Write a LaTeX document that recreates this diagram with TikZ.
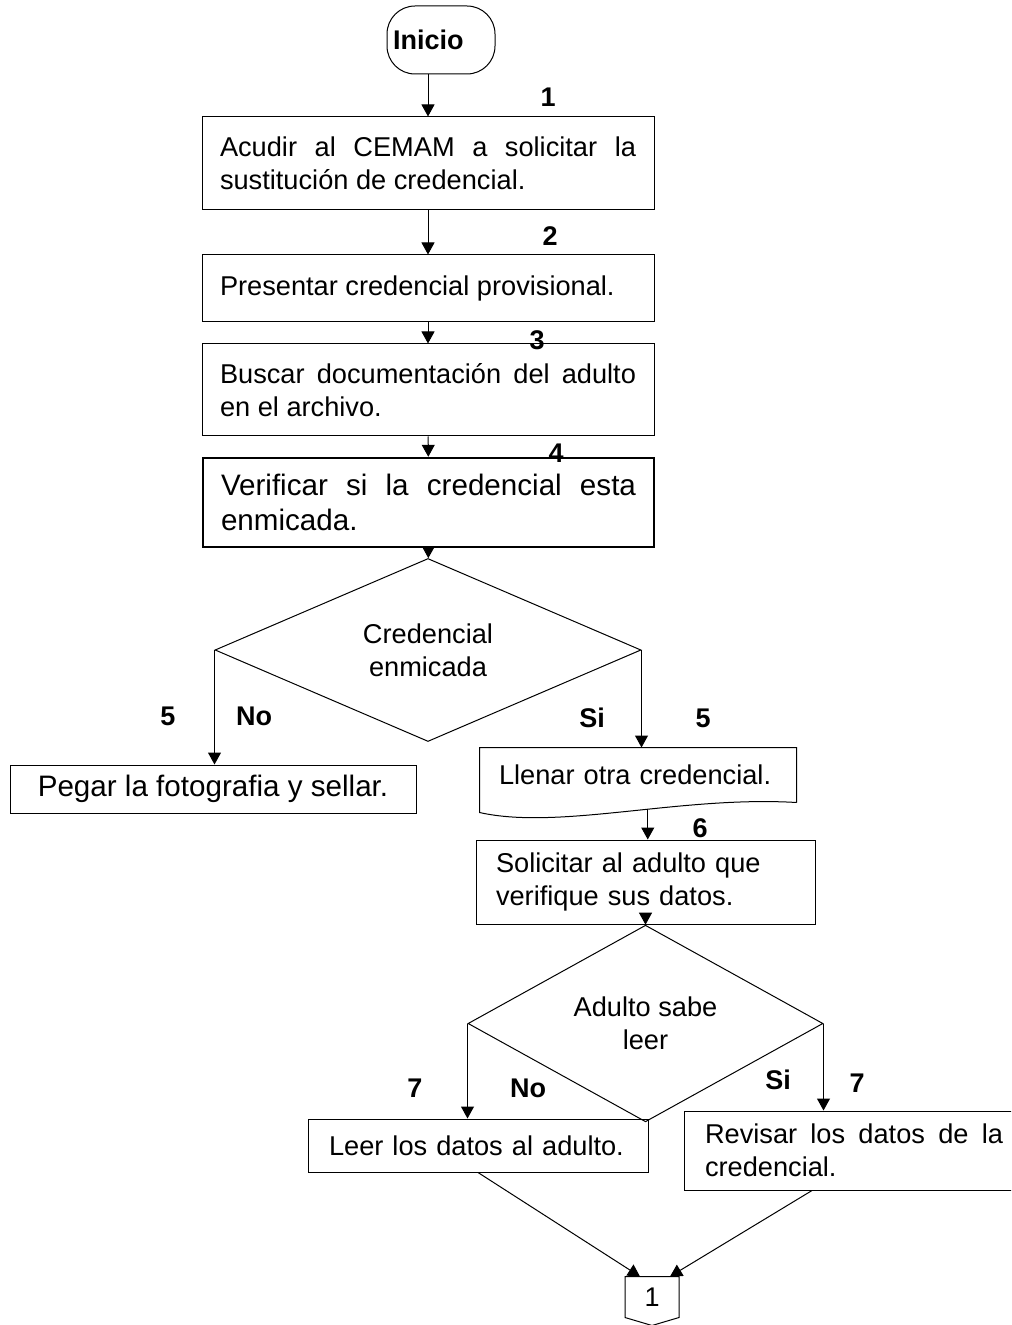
\documentclass[tikz,border=0pt]{standalone}
\usepackage{fontspec}
\setmainfont{Liberation Sans}
\usetikzlibrary{shapes.geometric,arrows.meta}
\hyphenpenalty=10000
\exhyphenpenalty=10000

\begin{document}
\begin{tikzpicture}[x=0.5pt,y=-0.5pt,line width=0.5pt,
        arr/.style={-{Triangle[length=6pt,width=6.5pt]}},
        proc/.style={draw,rectangle,align=justify,inner xsep=9pt,text width=208pt,
            font=\fontsize{13.6}{16.5}\selectfont},
        big/.style={font=\fontsize{14.8}{17.5}\selectfont},
        dec/.style={draw,diamond,align=center,inner sep=0pt,
            font=\fontsize{13.6}{16.5}\selectfont},
        num/.style={font=\bfseries\fontsize{13.5}{16}\selectfont}]
        \useasboundingbox (0,0) rectangle (1011,1325);
        \clip (0,0) rectangle (1011,1325);

        \node[draw,rounded corners=14pt,minimum height=34pt,inner xsep=3pt,text width=48pt,
            align=left,font=\bfseries\fontsize{13.5}{16}\selectfont](ini) at (441,40){Inicio};
        \node[proc,minimum height=46.5pt](b1) at (428,163.5){Acudir al CEMAM a solicitar la sustitución de credencial.};
        \node[proc,minimum height=33.5pt](b2) at (428,288.5){Presentar credencial provisional.};
        \node[proc,minimum height=46pt](b3) at (428,390){Buscar documentación del adulto en el archivo.};
        \node[proc,big,line width=1.2pt,text width=207.5pt,minimum height=44.5pt](b4) at (428.5,502.5){Verificar si la credencial esta enmicada.};
        \node[dec,minimum width=213pt,minimum height=78pt](d1) at (428,650){Credencial\\enmicada};
        \node[draw,big,minimum width=203pt,minimum height=24pt](peg) at (213,789){Pegar la fotografia y sellar.};
        \node[proc,draw=none,align=left,inner xsep=9.5pt,text width=139pt,minimum height=27pt](llen) at (638,775){Llenar otra credencial.};
        \draw (llen.south east) -- (llen.north east) -- (llen.north west) -- ([yshift=-5pt]llen.south west)
            .. controls +(80,18) and +(-116,-7) .. (llen.south east) coordinate[pos=0.57](lw);
        \node[proc,align=left,inner xsep=10pt,text width=149.5pt,minimum height=42pt](sol) at (645.5,882){Solicitar al adulto que verifique sus datos.};
        \node[dec,minimum width=177.5pt,minimum height=67.5pt](d2) at (645.5,1023.5){Adulto sabe\\leer};
        \node[proc,align=left,inner xsep=10.5pt,text width=149pt,minimum height=26.5pt](leer) at (478,1145.5){Leer los datos al adulto.};
        \node[proc,inner xsep=10.5pt,text width=149pt,minimum height=39.5pt](rev) at (854,1150.5){Revisar los datos de la credencial.};
        \node[minimum width=26.5pt,minimum height=20pt,font=\fontsize{13.5}{16}\selectfont](off) at (652,1297){1};
        \draw (off.south west) -- (off.north west) -- (off.north east) -- (off.south east)
            -- ([yshift=-4pt]off.south) -- cycle;

        \draw[arr] (b1.north |- ini.south) -- (b1.north);
        \draw[arr] (b1) -- (b2);
        \draw[arr] (b2) -- (b3);
        \draw[arr] (b3) -- (b4);
        \draw[arr] (b4) -- (d1);
        \draw[arr] (d1.west) -- (d1.west |- peg.north);
        \draw[arr] (d1.east) -- (d1.east |- llen.north);
        \draw[arr] (lw) -- (lw |- sol.north);
        \draw[arr] (sol) -- (d2);
        \draw[arr] (d2.west) -- (d2.west |- leer.north);
        \draw[arr] (d2.east) -- (d2.east |- rev.north);
        \draw[arr] (leer.south) -- ([xshift=7.5pt]off.north west);
        \draw[arr] ([xshift=-21pt]rev.south) -- ([xshift=-4.5pt]off.north east);

        \node[num](n1) at (548,97){1};
        \node[num](n2) at (550,236){2};
        \node[num](n3) at (537,340){3};
        \node[num](n4) at (556,453){4};
        \node[num](n5a) at (168,716){5};
        \node[num](no1) at (254,716){No};
        \node[num](si1) at (592,718){Si};
        \node[num](n5b) at (703,718){5};
        \node[num](n6) at (700,828){6};
        \node[num](n7a) at (415,1088){7};
        \node[num](no2) at (528,1088){No};
        \node[num](si2) at (778,1080){Si};
        \node[num](n7b) at (857,1083){7};
    \end{tikzpicture}
\end{document}
